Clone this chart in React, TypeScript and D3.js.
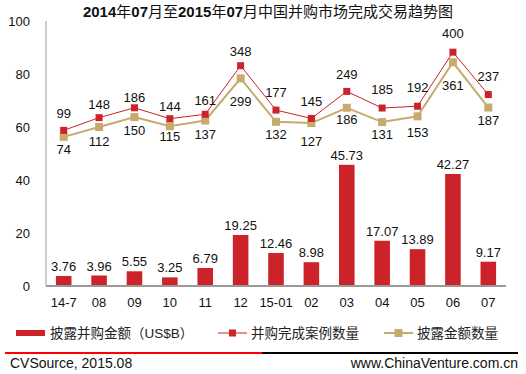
import React from "react";
import * as d3 from "d3";

const categories = ["14-7", "08", "09", "10", "11", "12", "15-01", "02", "03", "04", "05", "06", "07"];
const amounts = [3.76, 3.96, 5.55, 3.25, 6.79, 19.25, 12.46, 8.98, 45.73, 17.07, 13.89, 42.27, 9.17];
const dealCounts = [99, 148, 186, 144, 161, 348, 177, 145, 249, 185, 192, 400, 237];
const disclosedCounts = [74, 112, 150, 115, 137, 299, 132, 127, 186, 131, 153, 361, 187];
const yTicks = [0, 20, 40, 60, 80, 100];
const titleParts = ["2014", "年", "07", "月至", "2015", "年", "07", "月中国并购市场完成交易趋势图"];

// label placement offsets (pixels), style only
const dealLabelGap = [17, 13, 10, 12, 14, 14, 18, 17, 17, 19, 19, 19, 18];
const discLabelGap = [13, 14, 13, 10, 14, 23, 13, 18, 12, 12, 16, 23, 13];

const W = 526;
const H = 374;
const FONT = "'Liberation Sans', Arial, 'Noto Sans CJK SC', sans-serif";
const RED = "#CC2229";
const TAN = "#C8A96E";
const FS = 13;

export default function App() {
  const left = 46;
  const right = 506;
  const top = 21;
  const bottom = 286;
  const x = d3.scaleBand<string>().domain(categories).range([left, right]).paddingInner(0.56).paddingOuter(0.28);
  const y = d3.scaleLinear().domain([0, 100]).range([bottom, top]);
  const y2 = d3.scaleLinear().domain([-500, 520]).range([bottom, top]);
  const cx = (c: string) => (x(c) as number) + x.bandwidth() / 2;

  const lineGen = d3
    .line<number>()
    .x((_, i) => cx(categories[i]))
    .y((d) => y2(d));

  return (
    <div style={{ position: "fixed", left: 0, top: 0 }}>
      <svg width={W} height={H} style={{ display: "block", background: "#fff" }} fontFamily={FONT}>
        <text x={268} y={17} textAnchor="middle" fontSize={15} fill="#111">
          {titleParts.map((p, i) => (
            <tspan key={i} fontWeight={i % 2 === 0 ? "bold" : "normal"}>
              {p}
            </tspan>
          ))}
        </text>

        {/* y axis labels */}
        {yTicks.map((t) => (
          <text key={t} x={30} y={y(t) + 4.5} textAnchor="end" fontSize={FS} fill="#111">
            {t}
          </text>
        ))}
        <line x1={left} x2={left} y1={top} y2={bottom} stroke="#999" strokeWidth={1} />

        {/* bars */}
        {amounts.map((v, i) => (
          <g key={categories[i]}>
            <rect x={x(categories[i])} y={y(v)} width={x.bandwidth()} height={bottom - y(v)} fill={RED} />
            <text x={cx(categories[i])} y={y(v) - 5} textAnchor="middle" fontSize={FS} fill="#111">
              {v.toFixed(2)}
            </text>
          </g>
        ))}
        <line x1={left} x2={right} y1={bottom} y2={bottom} stroke="#999" strokeWidth={2} />

        {/* x labels */}
        {categories.map((c) => (
          <text key={c} x={cx(c)} y={307} textAnchor="middle" fontSize={FS} fill="#111">
            {c}
          </text>
        ))}

        {/* tan line */}
        <path d={lineGen(disclosedCounts) || ""} fill="none" stroke={TAN} strokeWidth={2} />
        {disclosedCounts.map((v, i) => (
          <rect key={i} x={cx(categories[i]) - 4} y={y2(v) - 4} width={8} height={8} fill={TAN} />
        ))}
        {/* red line */}
        <path d={lineGen(dealCounts) || ""} fill="none" stroke={RED} strokeWidth={1} />
        {dealCounts.map((v, i) => (
          <rect key={i} x={cx(categories[i]) - 3.5} y={y2(v) - 3.5} width={7} height={7} fill={RED} />
        ))}

        {dealCounts.map((v, i) => (
          <text key={i} x={cx(categories[i])} y={y2(v) - dealLabelGap[i] + 4.5} textAnchor="middle" fontSize={FS} fill="#111">
            {v}
          </text>
        ))}
        {disclosedCounts.map((v, i) => (
          <text key={i} x={cx(categories[i])} y={y2(v) + discLabelGap[i] + 4.5} textAnchor="middle" fontSize={FS} fill="#111">
            {v}
          </text>
        ))}

        {/* legend */}
        <rect x={16} y={330} width={29} height={6} fill={RED} />
        <text x={50} y={338} fontSize={13.5} fill="#222">披露并购金额（US$B）</text>
        <line x1={218} x2={247} y1={333} y2={333} stroke={RED} strokeWidth={1} />
        <rect x={229} y={329.5} width={7} height={7} fill={RED} />
        <text x={251} y={338} fontSize={13.5} fill="#222">并购完成案例数量</text>
        <line x1={384} x2={413} y1={333} y2={333} stroke={TAN} strokeWidth={2} />
        <rect x={394.5} y={329} width={8} height={8} fill={TAN} />
        <text x={417} y={338} fontSize={13.5} fill="#222">披露金额数量</text>

        {/* footer */}
        <line x1={5} x2={262} y1={353} y2={353} stroke="#FF0000" strokeWidth={2} />
        <line x1={262} x2={518} y1={353} y2={353} stroke="#000" strokeWidth={2} />
        <text x={10} y={368} fontSize={14} fill="#111">CVSource, 2015.08</text>
        <text x={518} y={368} textAnchor="end" fontSize={14} fill="#111">www.ChinaVenture.com.cn</text>
      </svg>
    </div>
  );
}
